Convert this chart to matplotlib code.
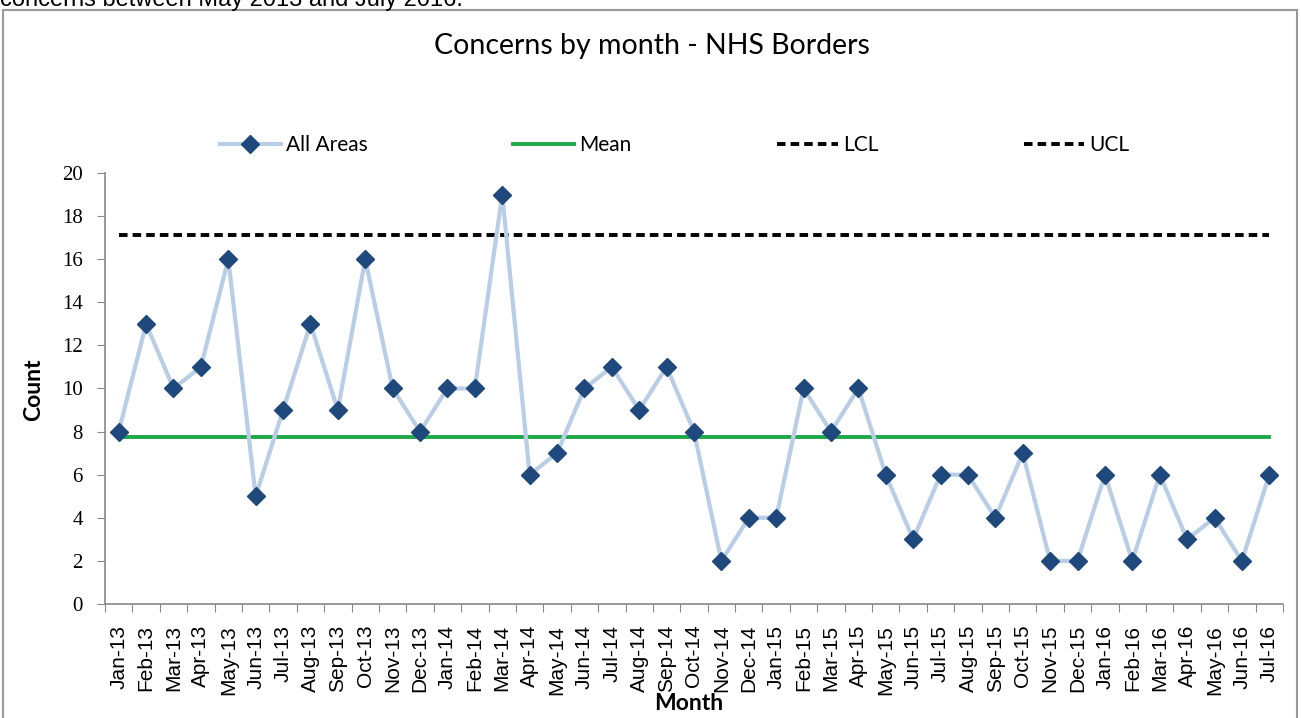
import matplotlib.pyplot as plt
import matplotlib.patches as patches
from matplotlib.lines import Line2D

months = ["Jan-13", "Feb-13", "Mar-13", "Apr-13", "May-13", "Jun-13", "Jul-13", "Aug-13",
          "Sep-13", "Oct-13", "Nov-13", "Dec-13", "Jan-14", "Feb-14", "Mar-14", "Apr-14",
          "May-14", "Jun-14", "Jul-14", "Aug-14", "Sep-14", "Oct-14", "Nov-14", "Dec-14",
          "Jan-15", "Feb-15", "Mar-15", "Apr-15", "May-15", "Jun-15", "Jul-15", "Aug-15",
          "Sep-15", "Oct-15", "Nov-15", "Dec-15", "Jan-16", "Feb-16", "Mar-16", "Apr-16",
          "May-16", "Jun-16", "Jul-16"]
all_areas = [8, 13, 10, 11, 16, 5, 9, 13, 9, 16, 10, 8, 10, 10, 19, 6,
             7, 10, 11, 9, 11, 8, 2, 4, 4, 10, 8, 10, 6, 3, 6, 6,
             4, 7, 2, 2, 6, 2, 6, 3, 4, 2, 6]
mean_val = 7.75
ucl_val = 17.1
lcl_val = -1.6  # below the axis, not visible

line_col = '#B9CDE5'
marker_col = '#1F497D'
mean_col = '#1FA84A'
dash = (0, (2.2, 1.3))

fig = plt.figure(figsize=(13.01, 7.18), dpi=100)
ax = fig.add_axes([105 / 1301, 1 - 604 / 718, (1283 - 105) / 1301, (604 - 173) / 718])

x = list(range(len(months)))
ax.plot(x, all_areas, color=line_col, lw=3, marker='D', ms=9,
        mfc=marker_col, mec=marker_col, zorder=3)
ax.plot([x[0], x[-1]], [mean_val] * 2, color=mean_col, lw=2.8, zorder=2)
ax.plot([x[0], x[-1]], [ucl_val] * 2, color='black', lw=2.8, ls=dash, zorder=2)
ax.plot([x[0], x[-1]], [lcl_val] * 2, color='black', lw=2.8, ls=dash, zorder=2)

ax.set_xlim(-0.5, len(months) - 0.5)
ax.set_ylim(0, 20)
ax.set_yticks(range(0, 21, 2))
ax.set_xticks([i - 0.5 for i in range(len(months) + 1)])
ax.set_xticklabels([])
ax.set_xticks(x, minor=True)
ax.set_xticklabels(months, minor=True, rotation=90, fontsize=15,
                   family='Liberation Sans')
ax.tick_params(axis='x', which='minor', length=0, pad=15)
ax.tick_params(axis='x', which='major', length=6, color='#888888')
ax.tick_params(axis='y', length=6, color='#888888', labelsize=15, pad=10)
for lab in ax.get_yticklabels():
    lab.set_family('Liberation Serif')

for s in ['top', 'right']:
    ax.spines[s].set_visible(False)
for s in ['left', 'bottom']:
    ax.spines[s].set_color('#888888')
    ax.spines[s].set_linewidth(1.2)

fig.text(652 / 1301, 1 - 46 / 718, 'Concerns by month - NHS Borders', ha='center', va='center',
         fontsize=20.5, family='Lato')
fig.text(34 / 1301, 1 - 390 / 718, 'Count', rotation=90, ha='center', va='center',
         fontsize=16.5, fontweight='bold', family='Lato')
fig.text(689 / 1301, 1 - 704 / 718, 'Month', ha='center', va='center',
         fontsize=16.5, fontweight='bold', family='Lato')

handles = [
    Line2D([], [], color=line_col, lw=3, marker='D', ms=9, mfc=marker_col, mec=marker_col),
    Line2D([], [], color=mean_col, lw=2.8),
    Line2D([], [], color='black', lw=2.8, ls=dash),
    Line2D([], [], color='black', lw=2.8, ls=dash),
]
fig.legend(handles, ['All Areas', 'Mean', 'LCL', 'UCL'], ncol=4, loc='center',
           bbox_to_anchor=(675 / 1301, 1 - 145 / 718), frameon=False,
           prop={'family': 'Lato', 'size': 15}, handlelength=2.9, handletextpad=0.25,
           columnspacing=7.0)

# chart border and the cut-off sentence above it
fig.patches.append(patches.Rectangle((3 / 1301, -0.05), 1294 / 1301, 1 - 10 / 718 + 0.05,
                                     transform=fig.transFigure, fill=False,
                                     edgecolor='#999999', lw=1.5))
fig.text(0, 1 - 6 / 718, 'concerns between May 2013 and July 2016.', ha='left',
         va='baseline', fontsize=17, family='Liberation Sans')

fig.savefig('out.png', dpi=100)
